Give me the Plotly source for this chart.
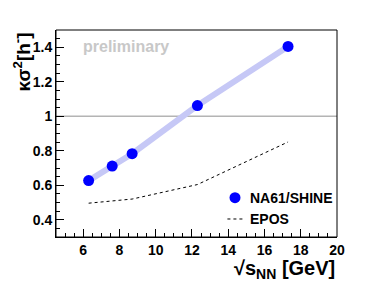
import plotly.graph_objects as go

energy = [6.3, 7.6, 8.7, 12.3, 17.3]
kappa_sigma2 = [0.627, 0.711, 0.783, 1.062, 1.405]
epos_energy = [6.3, 7.6, 8.7, 12.3, 17.3]
epos_values = [0.496, 0.508, 0.520, 0.604, 0.851]
x_ticks = [6, 8, 10, 12, 14, 16, 18, 20]
y_ticks = [0.4, 0.6, 0.8, 1.0, 1.2, 1.4]
y_tick_text = ["0.4", "0.6", "0.8", "1", "1.2", "1.4"]
legend_labels = ["NA61/SHINE", "EPOS"]

FONT = "Liberation Sans"

fig = go.Figure()
fig.add_trace(go.Scatter(x=[4.5, 20], y=[1, 1], mode="lines",
                         line=dict(color="#b4b4b4", width=1.5),
                         showlegend=False, hoverinfo="skip"))
fig.add_trace(go.Scatter(x=energy, y=kappa_sigma2, mode="lines",
                         line=dict(color="#c6c8f6", width=6),
                         showlegend=False, hoverinfo="skip"))
fig.add_trace(go.Scatter(x=epos_energy, y=epos_values, mode="lines",
                         line=dict(color="black", width=1, dash="dot"),
                         name=legend_labels[1], showlegend=False))
fig.add_trace(go.Scatter(x=energy, y=kappa_sigma2, mode="markers",
                         marker=dict(color="#0000ff", size=11),
                         name=legend_labels[0], showlegend=False))

# legend symbols (drawn on an overlay axis spanning the plot area, 0..1)
fig.add_trace(go.Scatter(x=[0.637], y=[0.19], mode="markers", xaxis="x2", yaxis="y2",
                         marker=dict(color="#0000ff", size=11),
                         showlegend=False, hoverinfo="skip"))
fig.add_trace(go.Scatter(x=[0.61, 0.67], y=[0.087, 0.087], mode="lines", xaxis="x2", yaxis="y2",
                         line=dict(color="black", width=1, dash="dot"),
                         showlegend=False, hoverinfo="skip"))

fig.update_layout(
    width=374, height=296,
    margin=dict(l=56, r=37, t=30, b=59, autoexpand=False),
    paper_bgcolor="white", plot_bgcolor="white",
    font=dict(family=FONT, color="black"),
    showlegend=False,
    xaxis=dict(range=[4.5, 20], tickvals=x_ticks, ticks="inside", ticklen=8,
               tickcolor="black", showgrid=False, zeroline=False,
               showline=True, linecolor="black", linewidth=1,
               tickfont=dict(family=FONT, size=14, weight="bold"),
               minor=dict(dtick=0.5, ticks="inside", ticklen=4, tickcolor="black")),
    yaxis=dict(range=[0.3, 1.5], tickvals=y_ticks, ticktext=y_tick_text, ticks="inside", ticklen=8,
               tickcolor="black", showgrid=False, zeroline=False,
               showline=True, linecolor="black", linewidth=1,
               tickfont=dict(family=FONT, size=14, weight="bold"),
               minor=dict(dtick=0.05, ticks="inside", ticklen=4, tickcolor="black")),
    xaxis2=dict(range=[0, 1], visible=False, overlaying="x"),
    yaxis2=dict(range=[0, 1], visible=False, overlaying="y"),
    shapes=[dict(type="rect", xref="paper", yref="paper", x0=0, x1=1, y0=0, y1=1,
                 line=dict(color="black", width=1))],
    annotations=[
        dict(text="preliminary", xref="paper", yref="paper", x=0.09, y=0.92,
             xanchor="left", yanchor="middle", showarrow=False,
             font=dict(family=FONT, size=16, color="#c8c8c8", weight="bold")),
        dict(text=legend_labels[0], xref="paper", yref="paper", x=0.683, y=0.19,
             xanchor="left", yanchor="middle", showarrow=False,
             font=dict(family=FONT, size=14, weight="bold")),
        dict(text=legend_labels[1], xref="paper", yref="paper", x=0.683, y=0.087,
             xanchor="left", yanchor="middle", showarrow=False,
             font=dict(family=FONT, size=14, weight="bold")),
        dict(text="κσ<sup>2</sup>[h<sup>-</sup>]", xref="paper", yref="paper",
             x=-0.121, y=1.0, xanchor="center", yanchor="top", textangle=-90,
             showarrow=False, font=dict(family=FONT, size=19, weight="bold")),
        dict(text="√s<sub>NN</sub> [GeV]",
             xref="paper", yref="paper", x=1.0, y=-0.088, xanchor="right", yanchor="top",
             showarrow=False, font=dict(family=FONT, size=20, weight="bold")),
    ],
)

fig.write_html("out.html", config={"displayModeBar": False},
               post_script="document.body.style.margin='0px';")
